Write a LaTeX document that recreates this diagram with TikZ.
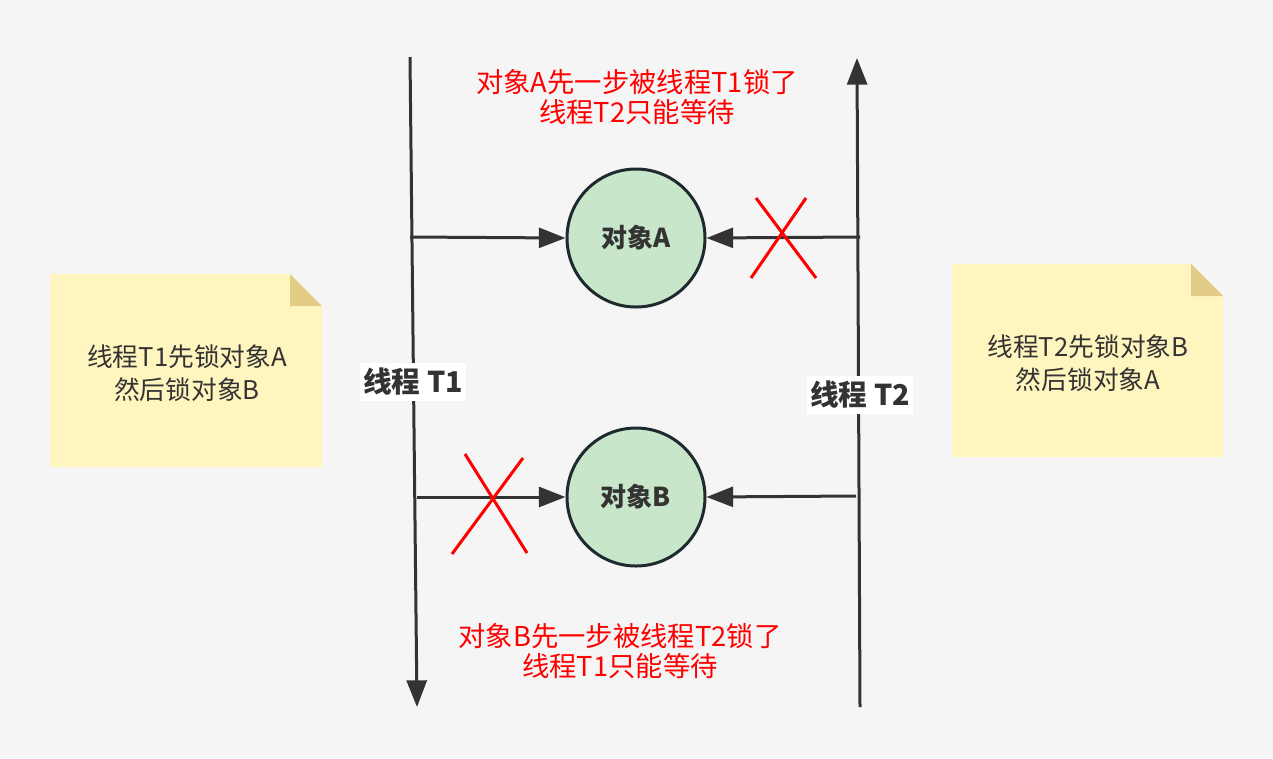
\documentclass[tikz,border=0pt]{standalone}
\usepackage{fontspec}
\setmainfont{Noto Sans CJK SC}
\usetikzlibrary{arrows.meta}
\definecolor{bgcol}{HTML}{F5F5F5}
\definecolor{linecol}{HTML}{333333}
\definecolor{objfill}{HTML}{C8E6C9}
\definecolor{objdraw}{HTML}{1E2A30}
\definecolor{notefill}{HTML}{FFF6BF}
\definecolor{notefold}{HTML}{E2CC86}

\begin{document}
\begin{tikzpicture}[x=0.75pt,y=-0.75pt,
thread/.style={line width=2.25pt,draw=linecol},
lock/.style={line width=2.25pt,draw=linecol,-{Triangle[length=20pt,width=15pt]}},
obj/.style={circle,draw=objdraw,fill=objfill,line width=2.25pt,minimum size=103.5pt,inner sep=0pt,text=linecol,font=\fontsize{19.5}{22}\selectfont\bfseries},
tlabel/.style={fill=white,inner xsep=2pt,inner ysep=4pt,text=linecol,font=\fontsize{21.5}{25}\selectfont\bfseries},
cross/.style={line width=2.25pt,draw=red},
redtext/.style={align=center,text=red,font=\fontsize{20.5}{22.5}\selectfont},
notetext/.style={align=center,text=linecol,font=\fontsize{19.3}{24.5}\selectfont}]

\fill[bgcol] (0,0) rectangle (1273,758);

% threads
\coordinate (t1top) at (410,57);
\coordinate (t1bot) at (417,707);
\coordinate (t2bot) at (860,707);
\coordinate (t2top) at (857,58);
\draw[thread,-{Triangle[length=20pt,width=15pt]}] (t1top) -- (t1bot);
\draw[thread,-{Triangle[length=20pt,width=15pt]}] (t2bot) -- (t2top);

% objects
\node[obj] (objA) at (636,238) {对象A};
\node[obj] (objB) at (636,497) {对象B};

\coordinate (t1a) at (410,237);
\coordinate (t2a) at (860,237);
\coordinate (t1b) at (417,497);
\coordinate (t2b) at (856,496);
\draw[lock] (t1a) -- (objA.west);
\draw[lock] (t2a) -- (objA.east);
\draw[lock] (t1b) -- (objB.west);
\draw[lock] (t2b) -- (objB.east);

% red crosses
\draw[cross] (756,198) -- (816,278);
\draw[cross] (806,198) -- (751,278);
\draw[cross] (465,454) -- (527,553);
\draw[cross] (523,458) -- (452,554);

% thread labels
\node[tlabel] (lab1) at (413,382) {线程 T1};
\node[tlabel] (lab2) at (860,395) {线程 T2};

% red texts
\node[redtext] (msgA) at (637,97) {对象A先一步被线程T1锁了\\线程T2只能等待};
\node[redtext] (msgB) at (620,651) {对象B先一步被线程T2锁了\\线程T1只能等待};

% notes
\fill[notefill] (50,274) -- (290,274) -- (322,306) -- (322,467) -- (50,467) -- cycle;
\fill[notefold] (290,274) -- (290,306) -- (322,306) -- cycle;
\node[notetext] (note1) at (187,373) {线程T1先锁对象A\\然后锁对象B};
\fill[notefill] (952,264) -- (1191,264) -- (1223,296) -- (1223,457) -- (952,457) -- cycle;
\fill[notefold] (1191,264) -- (1191,296) -- (1223,296) -- cycle;
\node[notetext] (note2) at (1088,363) {线程T2先锁对象B\\然后锁对象A};

\end{tikzpicture}
\end{document}
